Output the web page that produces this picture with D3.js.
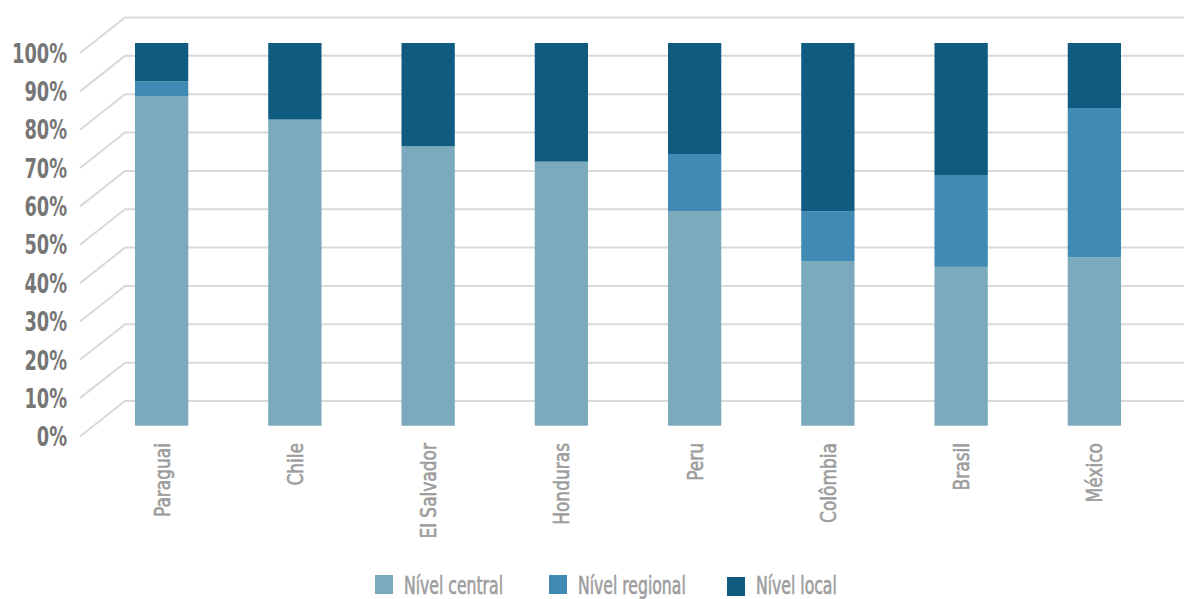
<!DOCTYPE html>
<html>
<head>
<meta charset="utf-8">
<script src="https://cdn.jsdelivr.net/npm/d3@7"></script>
<style>
  html, body { margin: 0; padding: 0; background: #fff; }
  svg { display: block; }
  text { font-family: "DejaVu Sans Condensed", "DejaVu Sans", sans-serif; }
</style>
</head>
<body>
<svg id="chart" width="1184" height="599"></svg>
<script>
// Distribution of spending by level of government (share of total, %)
const countries = ["Paraguai", "Chile", "El Salvador", "Honduras", "Peru", "Colômbia", "Brasil", "México"];
const central   = [86, 80, 73, 69, 56, 43, 41.5, 44];
const regional  = [4, 0, 0, 0, 15, 13, 24, 39];
const local     = [10, 20, 27, 31, 29, 44, 34.5, 17];
const seriesNames = ["Nível central", "Nível regional", "Nível local"];
const seriesColors = ["#7baabd", "#418ab3", "#0f5c80"];
const yTicks = [0, 10, 20, 30, 40, 50, 60, 70, 80, 90, 100];

const svg = d3.select("#chart");
const W = 1184;

// Narrow the glyphs of a text selection so that a sample string spans the given width
function condense(sel, sample, targetWidth) {
  const probe = svg.append("text").attr("font-size", sel.attr("font-size"))
    .attr("font-weight", sel.attr("font-weight")).text(sample);
  const k = targetWidth / probe.node().getComputedTextLength();
  probe.remove();
  sel.each(function () {
    const len = this.getComputedTextLength();
    d3.select(this).attr("textLength", len * k).attr("lengthAdjust", "spacingAndGlyphs");
  });
}

// Back wall and bar-plane scales (pseudo-3D layout)
const depthX = 45, depthY = 35.5;
const yBack = d3.scaleLinear().domain([0, 100]).range([401, 17.5]);
const yBar = d3.scaleLinear().domain([0, 100]).range([425.7, 43]);
const x = d3.scaleBand().domain(countries).range([95, 1161]).paddingInner(0.6).paddingOuter(0.3);
const wallLeft = 125;

// Gridlines: diagonal side wall then horizontal back wall
const grid = svg.append("g").attr("fill", "none").attr("stroke", "#d9d9d9").attr("stroke-width", 2);
grid.selectAll("polyline").data(yTicks).join("polyline")
  .attr("points", d => [
    [wallLeft - depthX, yBack(d) + depthY],
    [wallLeft, yBack(d)],
    [W, yBack(d)]
  ].map(p => p.join(",")).join(" "));

// Y-axis labels at the front edge of the side wall
const yLabels = svg.append("g").selectAll("text").data(yTicks).join("text")
  .attr("x", 67)
  .attr("y", d => yBack(d) + depthY)
  .attr("dy", "0.36em")
  .attr("text-anchor", "end")
  .attr("font-size", 27)
  .attr("font-weight", "bold")
  .attr("fill", "#767676")
  .text(d => d + "%");
condense(yLabels, "100%", 55);

// Stacked bars
const rows = countries.map((c, i) => ({ country: c, "Nível central": central[i], "Nível regional": regional[i], "Nível local": local[i] }));
const stack = d3.stack().keys(seriesNames)(rows);
const color = d3.scaleOrdinal().domain(seriesNames).range(seriesColors);

svg.append("g").selectAll("g").data(stack).join("g")
  .attr("fill", d => color(d.key))
  .selectAll("rect").data(d => d.filter(s => s[1] > s[0])).join("rect")
  .attr("x", d => x(d.data.country))
  .attr("width", x.bandwidth())
  .attr("y", d => yBar(d[1]))
  .attr("height", d => yBar(d[0]) - yBar(d[1]));

// Category labels, rotated (thin stroke gives a semibold weight)
const xLabels = svg.append("g").selectAll("text").data(countries).join("text")
  .attr("transform", d => `translate(${x(d) + x.bandwidth() / 2},443) rotate(-90)`)
  .attr("dy", "0.36em")
  .attr("text-anchor", "end")
  .attr("font-size", 22)
  .attr("fill", "#9d9d9d")
  .attr("stroke", "#9d9d9d")
  .attr("stroke-width", 0.6)
  .text(d => d);
condense(xLabels, "Paraguai", 74);

// Legend
const legendX = [375, 549, 727];
const legend = svg.append("g").selectAll("g").data(seriesNames).join("g")
  .attr("transform", (d, i) => `translate(${legendX[i]},0)`);
legend.append("rect")
  .attr("y", (d, i) => i === 2 ? 577 : 575)
  .attr("width", 18).attr("height", 19)
  .attr("fill", d => color(d));
const legendText = legend.append("text")
  .attr("x", 29).attr("y", 594)
  .attr("font-size", 24)
  .attr("fill", "#9d9d9d")
  .attr("stroke", "#9d9d9d")
  .attr("stroke-width", 0.6)
  .text(d => d);
condense(legendText, "Nível central", 99);
</script>
</body>
</html>
